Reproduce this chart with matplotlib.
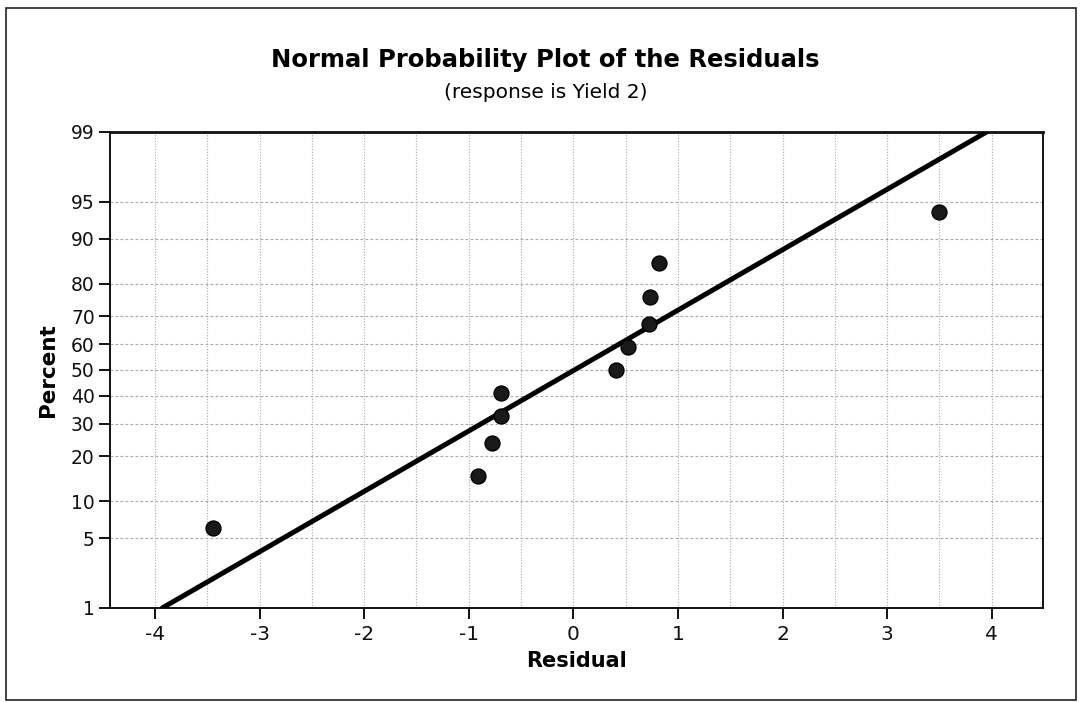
import numpy as np
import matplotlib
matplotlib.use("Agg")
import matplotlib.pyplot as plt
from matplotlib.patches import Rectangle
from statistics import NormalDist

# ---- data ----
residuals = [-3.45, -0.91, -0.78, -0.69, -0.69, 0.41, 0.52, 0.72, 0.73, 0.82, 3.50]
percents = [6.1, 14.9, 23.7, 32.5, 41.2, 50.0, 58.8, 67.5, 76.3, 85.1, 93.9]
fit_x = [-3.93, 3.95]
fit_pct = [1, 99]
y_ticks = [1, 5, 10, 20, 30, 40, 50, 60, 70, 80, 90, 95, 99]
x_ticks = [-4, -3, -2, -1, 0, 1, 2, 3, 4]
x_minor = [-4, -3.5, -3, -2.5, -2, -1.5, -1, -0.5, 0, 0.5, 1, 1.5, 2, 2.5, 3, 3.5, 4]
title = "Normal Probability Plot of the Residuals"
subtitle = "(response is Yield 2)"

_nd = NormalDist()
_vinv = np.vectorize(lambda v: _nd.inv_cdf(min(max(v, 1e-6), 100 - 1e-6) / 100.0), otypes=[float])
_vcdf = np.vectorize(lambda v: _nd.cdf(v) * 100.0, otypes=[float])


def _fwd(p):
    return _vinv(np.asarray(p, dtype=float))


def _inv(z):
    return _vcdf(np.asarray(z, dtype=float))


plt.rcParams['font.family'] = ['DejaVu Sans']

fig = plt.figure(figsize=(10.8, 7.02), dpi=100)
fig.patches.append(Rectangle((0.006, 0.003), 0.99, 0.985, transform=fig.transFigure,
                             fill=False, edgecolor='#222222', linewidth=1.2))

ax = fig.add_axes([0.1019, 0.134, 0.8638, 0.678])
ax.set_yscale('function', functions=(_fwd, _inv))
ax.set_ylim(1, 99)
ax.set_xlim(-4.43, 4.49)

ax.set_yticks(y_ticks)
ax.set_yticklabels([str(t) for t in y_ticks])
ax.set_xticks(x_ticks)
ax.set_xticklabels([str(t) for t in x_ticks])
ax.yaxis.set_minor_locator(matplotlib.ticker.NullLocator())
ax.xaxis.set_minor_locator(matplotlib.ticker.NullLocator())

for xv in x_minor:
    ax.axvline(xv, color='#a8a8a8', linestyle=(0, (1, 1.5)), linewidth=0.8, zorder=0)
for yv in y_ticks[1:-1]:
    ax.axhline(yv, color='#a8a8a8', linestyle=(0, (2.5, 2)), linewidth=0.8, zorder=0)

ax.plot(fit_x, fit_pct, color='black', linewidth=3.6, solid_capstyle='round', zorder=3)
ax.scatter(residuals, percents, s=115, color='#1a1a1a', zorder=4, edgecolors='black')

for s in ax.spines.values():
    s.set_linewidth(1.4)
    s.set_color('#111111')
ax.spines['top'].set_linewidth(2.0)

ax.tick_params(axis='both', direction='out', length=8, width=1.4, colors='#111111')
ax.tick_params(axis='y', labelsize=13.5, pad=3)
ax.tick_params(axis='x', labelsize=14.5, pad=4)

ax.set_xlabel('Residual', fontsize=15, fontweight='bold', labelpad=5)
ax.set_ylabel('Percent', fontsize=15.5, fontweight='bold', labelpad=9)

fig.text(0.505, 0.914, title, ha='center', va='center', fontsize=17.5, fontweight='bold')
fig.text(0.505, 0.868, subtitle, ha='center', va='center', fontsize=14.5)

fig.savefig('out.png', dpi=100)
